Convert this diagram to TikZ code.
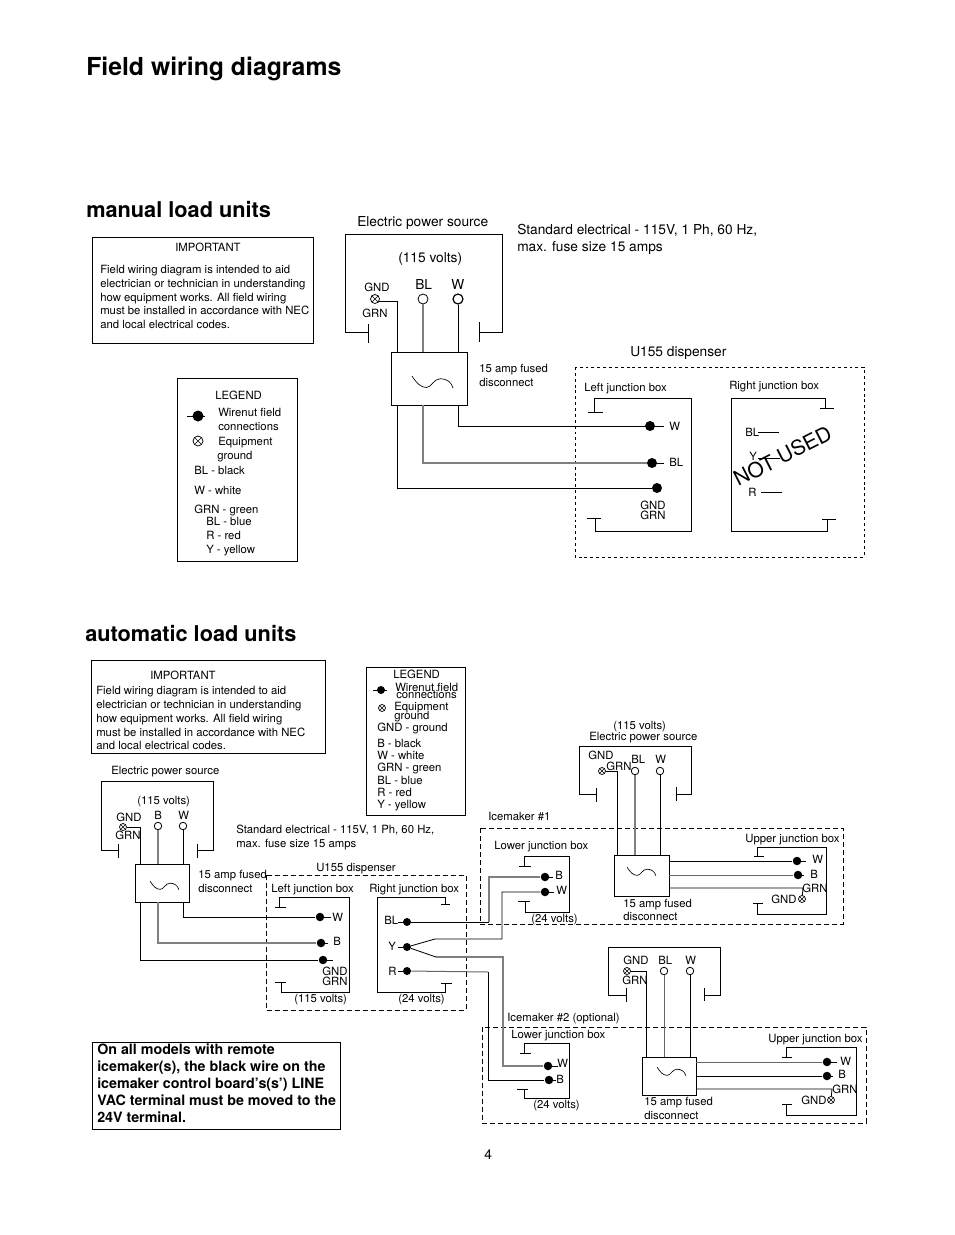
\documentclass[tikz,border=0pt]{standalone}
\usepackage{fontspec}
\setmainfont{TeX Gyre Heros}
\usetikzlibrary{positioning}
\usetikzlibrary{calc}
\tikzset{
  wire/.style={black,line width=0.62pt},
  gwire/.style={color=black!50,line width=1.1pt},
  thingwire/.style={color=black!60,line width=0.75pt},
  outline/.style={black,line width=0.6pt},
  dotbox/.style={black,line width=0.7pt,dash pattern=on 2.2pt off 2.2pt},
  dashbox/.style={black,line width=0.7pt,dash pattern=on 3.4pt off 2.6pt},
  lab/.style={anchor=west,inner sep=0pt,text height=0.72em,text depth=0pt,font=\fontsize{8.5}{10}\selectfont},
  labm/.style={lab,font=\fontsize{10.3}{12}\selectfont},
  heading/.style={anchor=west,inner sep=0pt,text height=#1*0.72pt,text depth=0pt,font=\fontsize{#1}{#1}\selectfont\bfseries},
  nut/.style={circle,fill=black,inner sep=0pt,minimum size=#1*0.75pt},
  term/.style={circle,draw=black,line width=0.6pt,fill=white,inner sep=0pt,minimum size=#1*0.75pt},
  gnd/.style={circle,draw=black,line width=0.55pt,fill=white,inner sep=0pt,minimum size=#1*0.75pt,
    path picture={\draw[line width=0.5pt] (path picture bounding box.north west) -- (path picture bounding box.south east)
      (path picture bounding box.north east) -- (path picture bounding box.south west);}},
  disc/.style 2 args={draw=black,line width=0.62pt,inner sep=0pt,minimum width=#1*0.75pt,minimum height=#2*0.75pt},
  pics/acwave/.style={code={
    \draw[line width=0.5pt] (-20.5,-6) .. controls (-16,1) and (-12,5.5) .. (-6,5.5)
      .. controls (-1,5.5) and (1,-3.3) .. (8,-3.3) .. controls (14,-3.3) and (19,0) .. (20.5,6);}},
}
\begin{document}
\begin{tikzpicture}[x=0.75pt,y=-0.75pt]
  \useasboundingbox (0,0) rectangle (954,1235);

  % page headings
  \node[heading=18.6] (title) at (86,67) {Field wiring diagrams};
  \node[heading=16.3] (manhead) at (86,210) {manual load units};
  \node[heading=16.3] (autohead) at (85,634) {automatic load units};
  \node[labm] (pageno) at (484,1155) {4};

  % ---- manual load units ----
  \draw[outline] (92,237) rectangle (313,343);
  \draw[outline] (177,378) rectangle (297,561);
  \foreach \x/\y/\txt [count=\c] in {
      175/247/IMPORTANT,
      100/269/Field wiring diagram is intended to aid,
      100/283/electrician or technician in understanding,
      100/297/how equipment works. All field wiring,
      100/310/must be installed in accordance with NEC,
      100/324/and local electrical codes.,
      215/395/LEGEND, 218/412/Wirenut field, 218/426/connections,
      218/441/Equipment, 217/455/ground, 194/470/BL - black, 194/490/W - white,
      194/509/GRN - green, 206/521/BL - blue, 206/535/R - red, 206/549/Y - yellow,
      364/287/GND, 362/313/GRN, 479/368/15 amp fused, 479/382/disconnect,
      584/387/Left junction box, 729/385/Right junction box,
      669/426/W, 669/462/BL, 640/505/GND, 640/515/GRN,
      745/432/BL, 749/456/Y, 748/492/R}
    \node[lab] (mt\c) at (\x,\y) {\txt};
  \foreach \x/\y/\txt [count=\c] in {
      357/222/Electric power source, 398/258/(115 volts), 415/285/BL, 451/285/W,
      517/230/{Standard electrical - 115V, 1 Ph, 60 Hz,},
      517/247/max. fuse size 15 amps, 630/352/U155 dispenser}
    \node[labm] (mm\c) at (\x,\y) {\txt};
  \node[rotate=27,inner sep=0pt,font=\fontsize{15.6}{16}\selectfont] (notused) at (782.5,456) {NOT USED};

  % power source
  \draw[outline] (368,324) -- (368,343) (368,332) -- (345,332) -- (345,234) -- (502,234) -- (502,332) -- (479,332) (479,322) -- (479,342);
  \node[gnd=9] (mgnd) at (375,299) {};
  \node[term=10] (mbl) at (423,299) {};
  \node[term=10,line width=0.9pt] (mw) at (458,299) {};
  \node[disc={76}{53}] (mdisc) at (429,378.5) {};
  \pic at (432.5,382) {acwave};
  \coordinate (mgdrop) at (397.5,352);

  % dispenser
  \draw[dotbox] (575,367) rectangle (864,557);
  \draw[outline] (588,412) -- (603,412) (594,412) -- (594,398) -- (691,398) -- (691,531) -- (595,531) -- (595,518) (587,518) -- (601,518);
  \draw[outline] (820,408) -- (834,408) (825,408) -- (825,398) -- (731,398) -- (731,531) -- (827,531) -- (827,519) (822,519) -- (836,519);
  \foreach \n/\x/\y/\e in {mnw/650/426/664, mnb/652/463/664}{
    \node[nut=10] (\n) at (\x,\y) {};
    \coordinate (\n e) at (\e,\y);
    \draw[wire] (\n.center) -- (\n e);
  }
  \node[nut=10] (mng) at (657,488) {};
  \foreach \n/\a/\b/\y in {ra/758/779/432, rb/758/780/458, rc/761/782/492}{
    \coordinate (\n l) at (\a,\y);
    \coordinate (\n r) at (\b,\y);
    \draw[wire] (\n l) -- (\n r);
  }

  % wires
  \draw[wire] (mgnd.-35) -| (mgdrop);
  \draw[gwire] (mbl) -- (mbl |- mdisc.north);
  \draw[wire] (mw) -- (mw |- mdisc.north);
  \draw[wire] (mw |- mdisc.south) |- (mnw);
  \draw[gwire] (mbl |- mdisc.south) |- (mnb);
  \draw[wire] (mgdrop |- mdisc.south) |- (mng);

  % legend symbols
  \node[nut=11] (lnut) at (198,416) {};
  \coordinate (lnuta) at (187,416);
  \coordinate (lnutb) at (205,416);
  \draw[wire] (lnuta) -- (lnutb);
  \node[gnd=10] (lgnd) at (198,441) {};

  % ---- automatic load units ----
  \draw[outline] (91,660) rectangle (325,753);
  \draw[outline] (366,667) rectangle (465,815);
  \draw[outline] (92,1042) rectangle (340,1129);
  \foreach \x/\y/\txt [count=\c] in {
      150/675/IMPORTANT,
      96/690/Field wiring diagram is intended to aid,
      96/704/electrician or technician in understanding,
      96/718/how equipment works. All field wiring,
      96/732/must be installed in accordance with NEC,
      96/745/and local electrical codes.,
      393/674/LEGEND, 395/687/Wirenut field, 396/694/connections,
      394/706/Equipment, 394/715/ground, 377/727/GND - ground, 377/743/B - black,
      377/755/W - white, 377/767/GRN - green, 377/780/BL - blue, 377/792/R - red, 377/804/Y - yellow,
      111/770/Electric power source, 137/800/(115 volts),
      116/817/GND, 115/835/GRN, 154/815/B, 178/815/W,
      236/829/{Standard electrical - 115V, 1 Ph, 60 Hz,}, 236/843/max. fuse size 15 amps,
      198/874/15 amp fused, 198/888/disconnect, 316/867/U155 dispenser,
      271/888/Left junction box, 369/888/Right junction box,
      332/917/W, 333/941/B, 322/971/GND, 322/981/GRN, 294/998/(115 volts), 398/998/(24 volts),
      384/920/BL, 388/946/Y, 388/971/R,
      488/816/Icemaker \#1, 494/845/Lower junction box, 555/875/B, 556/890/W, 531/918/(24 volts),
      613/725/(115 volts), 589/736/Electric power source, 588/755/GND, 606/766/GRN, 631/759/BL, 655/759/W,
      623/903/15 amp fused, 623/916/disconnect, 745/838/Upper junction box,
      812/859/W, 810/874/B, 802/888/GRN, 771/899/GND,
      507/1017/Icemaker \#2 (optional), 511/1034/Lower junction box, 557/1063/W, 556/1079/B, 533/1104/(24 volts),
      623/960/GND, 622/980/GRN, 658/960/BL, 685/960/W, 644/1101/15 amp fused, 644/1115/disconnect,
      768/1038/Upper junction box, 840/1061/W, 838/1074/B, 832/1089/GRN, 801/1100/GND}
    \node[lab] (at\c) at (\x,\y) {\txt};
  \foreach \y/\txt [count=\c] in {1049/On all models with remote, 1066/icemaker(s){,} the black wire on the,
      1083/icemaker control board’s(s’) LINE, 1100/VAC terminal must be moved to the, 1117/24V terminal.}
    \node[heading=10.7] (note\c) at (97,\y) {\txt};

  % dashed enclosures
  \draw[dashbox] (266,875) rectangle (466,1010);
  \draw[dashbox] (480,828) rectangle (843,924);
  \draw[dashbox] (482,1027) rectangle (866,1123);

  % power sources
  \draw[outline] (118,844) -- (118,858) (118,850) -- (101,850) -- (101,781) -- (213,781) -- (213,850) -- (197,850) (197,844) -- (197,858);
  \draw[outline] (596,788) -- (596,802) (596,794) -- (579,794) -- (579,746) -- (691,746) -- (691,794) -- (676,794) (676,787) -- (676,801);
  \draw[outline] (626,988) -- (626,1002) (626,995) -- (608,995) -- (608,947) -- (720,947) -- (720,995) -- (704,995) (704,988) -- (704,1001);

  % junction boxes
  \draw[outline] (275,907) -- (286,907) (279,907) -- (279,897) -- (349,897) -- (349,992) -- (281,992) -- (281,982) (275,982) -- (286,982);
  \draw[outline] (441,904) -- (450,904) (445,904) -- (445,897) -- (377,897) -- (377,992) -- (445,992) -- (445,983) (441,983) -- (452,983);
  \draw[outline] (519,866) -- (531,866) (524,866) -- (524,856) -- (569,856) -- (569,912) -- (525,912) -- (525,901) (518,901) -- (530,901);
  \draw[outline] (754,856) -- (764,856) (757,856) -- (757,847) -- (826,847) -- (826,914) -- (757,914) -- (757,903) (753,903) -- (763,903);
  \draw[outline] (520,1053) -- (531,1053) (524,1053) -- (524,1043) -- (569,1043) -- (569,1098) -- (524,1098) -- (524,1089) (517,1089) -- (528,1089);
  \draw[outline] (782,1057) -- (792,1057) (786,1057) -- (786,1047) -- (856,1047) -- (856,1115) -- (786,1115) -- (786,1104) (782,1104) -- (792,1104);

  % disconnects
  \node[disc={54}{38}] (adisc) at (162,883) {};
  \node[disc={55}{41}] (bdisc) at (641.5,875.5) {};
  \node[disc={54}{38}] (cdisc) at (669,1076) {};
  \pic[scale=0.7] at (164.5,885.5) {acwave};
  \pic[scale=0.7] at (641.5,871.5) {acwave};
  \pic[scale=0.7] at (671.5,1071.5) {acwave};

  % terminals
  \foreach \n/\x/\y in {agnd/123/827, bgnd/602/771, cgnd/627/971, dgnd/802/899, egnd/831/1100}
    \node[gnd=7] (\n) at (\x,\y) {};
  \node[gnd=7] (lgndb) at (382,708) {};
  \foreach \n/\x/\y in {abl/158/826, aw/183/826, bbl/635/771, bw/660/771, cbl/664/971, cw/690/971}
    \node[term=7.5] (\n) at (\x,\y) {};

  % wirenuts, with the short tail behind each one
  \foreach \n/\x/\y/\e in {anw/320/917/331, anb/321/943/328, ang/323/960/333,
      nw1/545/892/554, nb1/545/877/553, nw2/548/1066/558, nb2/549/1080/556,
      unw1/797/861/806, unb1/798/875/804, unw2/827/1062/837, unb2/827/1076/833}{
    \node[nut=8.5] (\n) at (\x,\y) {};
    \coordinate (\n e) at (\e,\y);
    \draw[wire] (\n.center) -- (\n e);
  }
  \foreach \n/\y in {nbl/922, ny/947, nr/971}{
    \node[nut=8] (\n) at (407,\y) {};
    \coordinate (\n e) at (398,\y);
    \draw[wire] (\n.center) -- (\n e);
  }
  \node[nut=8] (lnutc) at (381,690) {};
  \coordinate (lnutca) at (373,690);
  \coordinate (lnutcb) at (387,690);
  \draw[wire] (lnutca) -- (lnutcb);

  % left source wires
  \coordinate (agdrop) at (140,864);
  \draw[wire] (agnd) -| (agdrop);
  \draw[gwire] (abl) -- (abl |- adisc.north);
  \draw[wire] (aw) -- (aw |- adisc.north);
  \draw[wire] (aw |- adisc.south) |- (anw);
  \draw[gwire] (abl |- adisc.south) |- (anb);
  \draw[wire] (agdrop |- adisc.south) |- (ang);

  % 24 volt wires
  \coordinate (blc) at (489,922);
  \coordinate (ya) at (435,939);
  \coordinate (yb) at (502,892);
  \coordinate (yc) at (436,957);
  \coordinate (yd) at (503,1066);
  \coordinate (rc) at (488,972);
  \coordinate (rd) at (488,1080);
  \draw[wire] (nbl) -- (blc);
  \draw[gwire] (blc) |- (nb1);
  \draw[wire] (ny) -- (ya) -| (yb) -- (nw1);
  \draw[wire] (ny) -- (yc);
  \draw[gwire] (yc) -| (yd) -- (nw2);
  \draw[thingwire] (nr) -- (rc);
  \draw[wire] (rc) -- (rd) -- (nb2);

  % icemaker #1 wires
  \coordinate (bgdrop) at (617,855);
  \coordinate (bgo) at (669,888);
  \coordinate (bgc) at (803,888);
  \draw[wire] (bgnd) -| (bgdrop);
  \draw[gwire] (bbl) -- (bbl |- bdisc.north);
  \draw[wire] (bw) -- (bw |- bdisc.north);
  \draw[wire] (unw1 -| bdisc.east) -- (unw1);
  \draw[thingwire] (unb1 -| bdisc.east) -- (unb1);
  \draw[wire] (bgo) -- (bgc) -- (dgnd);

  % icemaker #2 wires
  \coordinate (cgdrop) at (646,1057);
  \coordinate (cgo) at (696,1089);
  \coordinate (cgc) at (832,1089);
  \draw[wire] (cgnd) -| (cgdrop);
  \draw[thingwire] (cbl) -- (cbl |- cdisc.north);
  \draw[wire] (cw) -- (cw |- cdisc.north);
  \draw[thingwire] (unw2 -| cdisc.east) -- (unw2);
  \draw[wire] (unb2 -| cdisc.east) -- (unb2);
  \draw[wire] (cgo) -- (cgc) -- (egnd);
\end{tikzpicture}
\end{document}
